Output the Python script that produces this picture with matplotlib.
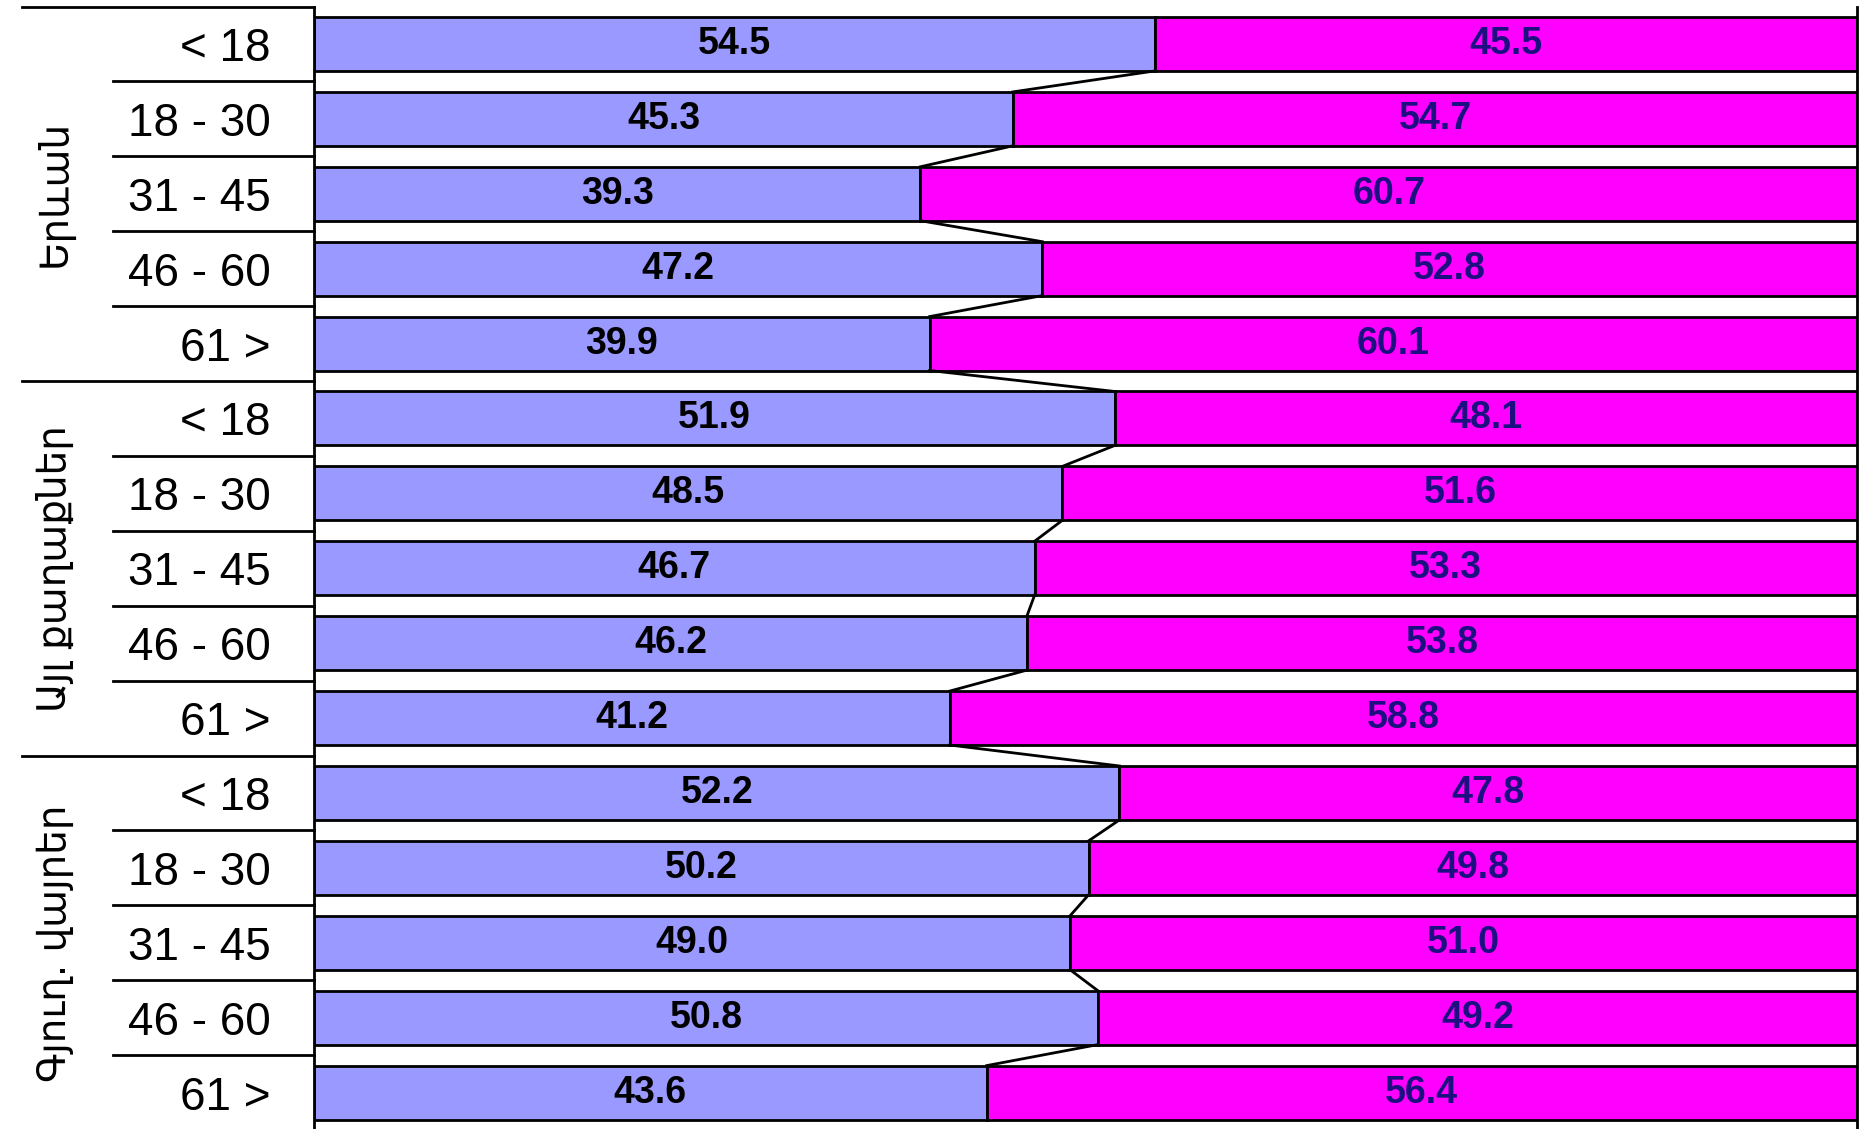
import matplotlib
matplotlib.use("Agg")
import matplotlib.pyplot as plt
import matplotlib.transforms as mtransforms

groups = ['Երևան', 'Այլ քաղաքներ', 'Գյուղ. վայրեր']
ages = ['< 18', '18 - 30', '31 - 45', '46 - 60', '61 >']
blue_vals = [54.5, 45.3, 39.3, 47.2, 39.9,
             51.9, 48.5, 46.7, 46.2, 41.2,
             52.2, 50.2, 49.0, 50.8, 43.6]
magenta_vals = [45.5, 54.7, 60.7, 52.8, 60.1,
                48.1, 51.6, 53.3, 53.8, 58.8,
                47.8, 49.8, 51.0, 49.2, 56.4]

BLUE = '#9999FF'
MAGENTA = '#FF00FF'
NAVY = '#1c0f80'
H = 0.72

W, Hpx = 1863, 1129
fig = plt.figure(figsize=(W / 100, Hpx / 100), dpi=100)
ax = fig.add_axes([314 / W, -1.0 / Hpx, 1543 / W, 1123.5 / Hpx])

n = len(blue_vals)
ys = list(range(n))
ax.barh(ys, blue_vals, height=H, color=BLUE, edgecolor='black', linewidth=2, zorder=2)
ax.barh(ys, magenta_vals, left=blue_vals, height=H, color=MAGENTA,
        edgecolor='black', linewidth=2, zorder=2)

# series lines
for i in range(n - 1):
    ax.plot([blue_vals[i], blue_vals[i + 1]], [i + H / 2, i + 1 - H / 2],
            color='black', linewidth=2, zorder=3)

# value labels
for i in range(n):
    ax.text(blue_vals[i] / 2, i, f'{blue_vals[i]:.1f}', ha='center', va='center',
            fontsize=27, fontweight='bold', family='Liberation Sans', color='black', zorder=4)
    ax.text(blue_vals[i] + magenta_vals[i] / 2, i, f'{magenta_vals[i]:.1f}',
            ha='center', va='center', fontsize=27, fontweight='bold',
            family='Liberation Sans', color=NAVY, zorder=4)

ax.set_xlim(0, 100)
ax.set_ylim(n - 0.5, -0.5)
ax.set_xticks([])
labels = ages * len(groups)
ax.set_yticks(ys)
ax.set_yticklabels(labels, fontsize=33, family='Liberation Sans')
ax.tick_params(axis='y', length=0, pad=31)
for s in ['top', 'bottom']:
    ax.spines[s].set_visible(False)
ax.spines['left'].set_linewidth(2)
ax.spines['right'].set_linewidth(2)

# separator lines in the label area
tr = mtransforms.blended_transform_factory(fig.transFigure, ax.transData)
for g in range(len(groups)):
    base = g * len(ages)
    ax.plot([22 / W, 314 / W], [base - 0.5, base - 0.5], transform=tr,
            color='black', linewidth=2, clip_on=False)
    for k in range(1, len(ages)):
        ax.plot([113 / W, 314 / W], [base + k - 0.5, base + k - 0.5], transform=tr,
                color='black', linewidth=2, clip_on=False)
    t = fig.text(55 / W, 0, groups[g], rotation=90, ha='center', va='center',
                 fontsize=28, family='DejaVu Sans', transform=tr)
    t.set_position((55 / W, base + (len(ages) - 1) / 2))

fig.savefig('out.png', dpi=100)
